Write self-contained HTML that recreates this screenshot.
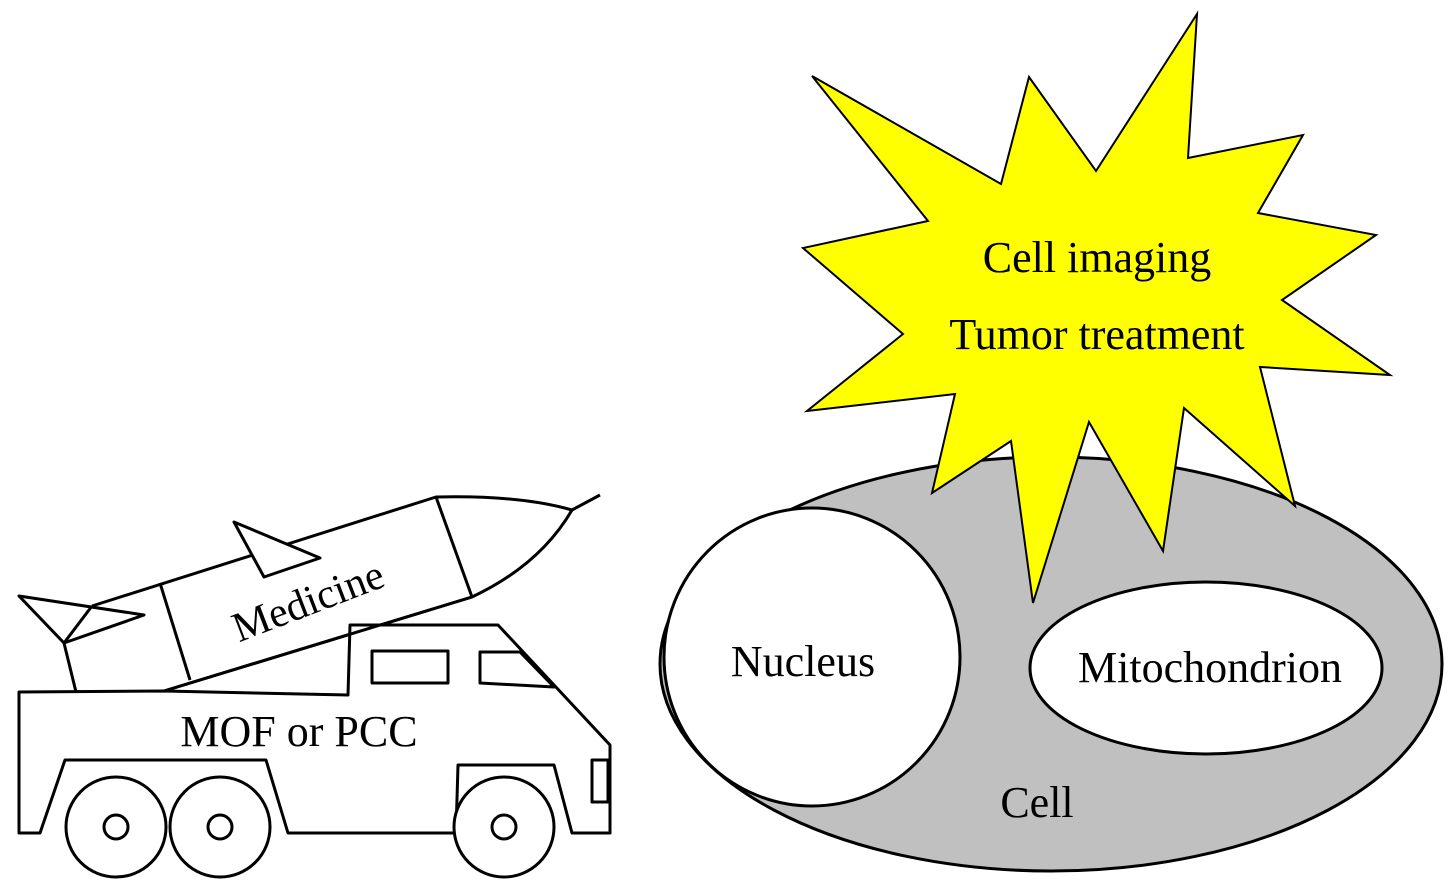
<!DOCTYPE html>
<html><head><meta charset="utf-8"><style>
html,body{margin:0;padding:0;background:#fff;}
svg{display:block;}
text{font-family:"Liberation Serif",serif;fill:#000;}
</style></head><body>
<svg width="1453" height="888" viewBox="0 0 1453 888" xmlns="http://www.w3.org/2000/svg">
<g fill="none" stroke="#000" stroke-width="3" stroke-linejoin="round">
<!-- rocket -->
<path d="M92,606 L436,497 Q520,495 572,510 Q540,565 472,597 L164,691" fill="#fff"/>
<path d="M572,510 L600,495"/>
<path d="M436,497 L472,597"/>
<path d="M160,583 L190,680"/>
<path d="M64,643 L76,692"/>
<path d="M19,596 L144,615 L64,643 Z" fill="#fff"/>
<path d="M64,643 L92,606"/>
<path d="M234,522 L320,558 L264,577 Z" fill="#fff"/>
<!-- truck -->
<path d="M19,692 L164,691 L348,695 L350,625 L498,625 L610,745 L610,833 L572,833 L554,765 L458,765 L456,833 L288,833 L266,760 L65,760 L40,833 L19,833 Z" fill="#fff"/>
<path d="M164,691 L472,597"/>
<rect x="592" y="760" width="16" height="42"/>
<rect x="372" y="651" width="76" height="32"/>
<path d="M480,652 L520,652 L554,687 L480,683 Z"/>
<circle cx="116" cy="827" r="50" fill="#fff"/>
<circle cx="116" cy="827" r="12"/>
<circle cx="220" cy="827" r="50" fill="#fff"/>
<circle cx="220" cy="827" r="12"/>
<circle cx="504" cy="827" r="50" fill="#fff"/>
<circle cx="504" cy="827" r="12"/>
<!-- cell -->
<ellipse cx="1051" cy="664" rx="391" ry="207" fill="#c0c0c0"/>
<ellipse cx="812" cy="657" rx="148" ry="149" fill="#fff"/>
<ellipse cx="1206" cy="668" rx="176" ry="86" fill="#fff"/>
</g>
<polygon fill="#ffff00" stroke="#000" stroke-width="2" stroke-linejoin="miter" points="812,76 1001,184 1029,77 1096,171 1197,14 1188,158 1303,135 1258,213 1376,235 1282,300 1390,375 1260,367 1295,506 1184,408 1163,551 1089,422 1033,603 1011,441 932,493 955,394 807,411 903,334 803,248 928,221"/>
<text x="1097" y="272" font-size="44" text-anchor="middle">Cell imaging</text>
<text x="1097" y="349" font-size="44" text-anchor="middle">Tumor treatment</text>
<text x="803" y="676" font-size="44" text-anchor="middle">Nucleus</text>
<text x="1210" y="682" font-size="44" text-anchor="middle">Mitochondrion</text>
<text x="1037" y="817" font-size="44" text-anchor="middle">Cell</text>
<text x="299" y="746" font-size="44" text-anchor="middle">MOF or PCC</text>
<text x="0" y="0" font-size="42" text-anchor="middle" transform="translate(313,614) rotate(-21)">Medicine</text>
</svg>
</body></html>
